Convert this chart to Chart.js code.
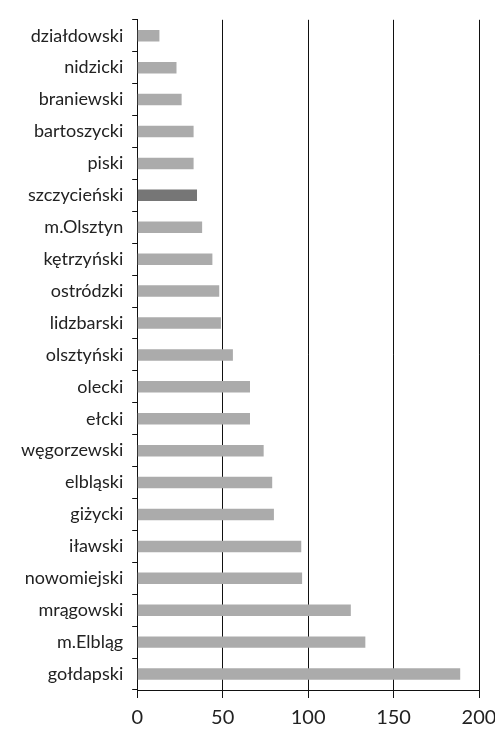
<!DOCTYPE html>
<html>
<head>
<meta charset="utf-8">
<script src="https://cdn.jsdelivr.net/npm/chart.js@4"></script>
<style>
html, body { margin: 0; padding: 0; background: #fff; }
#wrap { width: 495px; height: 729px; }
</style>
</head>
<body>
<div id="wrap"><canvas id="powiatChart"></canvas></div>
<script>
// powiaty
let powiaty = ["działdowski","nidzicki","braniewski","bartoszycki","piski","szczycieński","m.Olsztyn","kętrzyński","ostródzki","lidzbarski","olsztyński","olecki","ełcki","węgorzewski","elbląski","giżycki","iławski","nowomiejski","mrągowski","m.Elbląg","gołdapski"];

// values
let wartosci = [13,23,26,33,33,35,38,44,48,49,56,66,66,74,79,80,96,96.5,125,133.5,189];

let highlight = "szczycieński";

let xTicks = [0,50,100,150,200];

let colors = powiaty.map(p => p === highlight ? "#767676" : "#ababab");

let ctx = document.getElementById("powiatChart").getContext("2d");

new Chart(ctx,{
type: "bar",
data: {
labels: powiaty,
datasets: [{
data: wartosci,
backgroundColor: colors,
borderWidth: 0,
barPercentage: 0.36,
categoryPercentage: 1
}]
},
options: {
indexAxis: "y",
responsive: true,
maintainAspectRatio: false,
animation: false,
layout: { padding: { top: 8, right: 0, left: 12, bottom: 0 } },
plugins: { legend: { display: false }, tooltip: { enabled: false } },
scales: {
x: {
min: 0,
max: 200,
afterBuildTicks: axis => { axis.ticks = xTicks.map(v => ({ value: v })); },
afterFit: axis => { axis.height = 39; axis.paddingRight = 16; },
grid: { color: "#111", lineWidth: 1, drawTicks: true, tickLength: 8, tickColor: "#111" },
border: { display: true, color: "#111", width: 1 },
ticks: { color: "#222", font: { family: "Lato", size: 20, lineHeight: 1 }, padding: 10 }
},
y: {
grid: { drawOnChartArea: false, drawTicks: true, tickLength: 5, tickColor: "#111", offset: true },
border: { display: true, color: "#111", width: 1 },
ticks: { color: "#222", font: { family: "Lato", size: 18 }, padding: 9, autoSkip: false }
}
}
}
});
</script>
</body>
</html>
